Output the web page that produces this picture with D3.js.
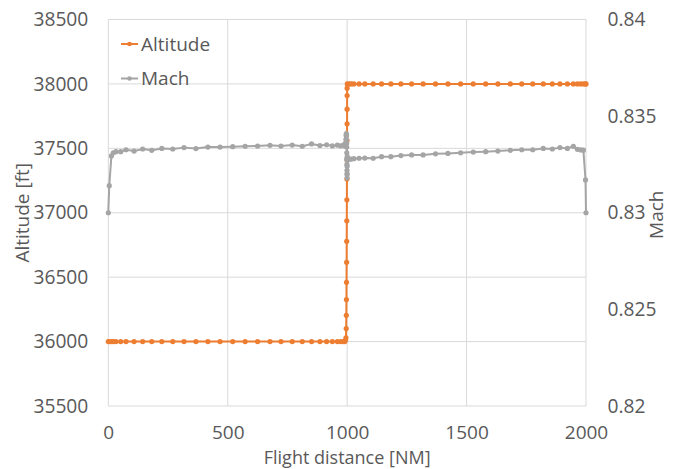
<!DOCTYPE html>
<html>
<head>
<meta charset="utf-8">
<script src="https://cdn.jsdelivr.net/npm/d3@7"></script>
<style>
html,body{margin:0;padding:0;background:#fff;}
svg{display:block;font-family:"Open Sans","Noto Sans",sans-serif;}
</style>
</head>
<body>
<svg id="chart" width="679" height="469"></svg>
<script>
// Flight distance [NM]
const distance = [0, 4, 13, 21, 32, 52, 74, 108, 144, 182, 224, 270, 317, 367, 417, 468, 521, 573, 625, 677, 723, 770, 812, 851, 886, 914, 938, 959, 973, 984, 990,
  993, 995, 996, 996.5, 997, 997.4, 997.8, 998.2, 998.5, 998.8, 999.1, 999.3, 999.5, 999.7, 999.8, 999.9, 1000, 1000.5,
  1009, 1017, 1028, 1050, 1074, 1109, 1144, 1183, 1225, 1270, 1318, 1370, 1422, 1475, 1528, 1580, 1631, 1683, 1731, 1777, 1821, 1859, 1891, 1922, 1947, 1964, 1978, 1989, 1998, 2000];
// Altitude [ft]
const altitude = [36000, 36000, 36000, 36000, 36000, 36000, 36000, 36000, 36000, 36000, 36000, 36000, 36000, 36000, 36000, 36000, 36000, 36000, 36000, 36000, 36000, 36000, 36000, 36000, 36000, 36000, 36000, 36000, 36000, 36000, 36000,
  36010, 36029, 36101, 36204, 36326, 36460, 36615, 36778, 36938, 37100, 37261, 37411, 37560, 37690, 37804, 37910, 37967, 38000,
  38000, 38000, 38000, 38000, 38000, 38000, 38000, 38000, 38000, 38000, 38000, 38000, 38000, 38000, 38000, 38000, 38000, 38000, 38000, 38000, 38000, 38000, 38000, 38000, 38000, 38000, 38000, 38000, 38000, 38000];
// Mach
const mach = [0.8300, 0.8314, 0.83294, 0.83310, 0.83316, 0.83316, 0.83326, 0.83319, 0.83330, 0.83323, 0.83333, 0.83330, 0.83337, 0.83332, 0.83340, 0.83340, 0.83342, 0.83344, 0.83345, 0.83349, 0.83345, 0.83350, 0.83344, 0.83356, 0.83348, 0.83352, 0.83346, 0.83350, 0.83346, 0.83350, 0.83345,
  0.8336, 0.8338, 0.8340, 0.8341, 0.8340, 0.8338, 0.8336, 0.8334, 0.8331, 0.8328, 0.8325, 0.8322, 0.8320, 0.8318, 0.8320, 0.8324, 0.8327, 0.8329,
  0.83277, 0.83278, 0.83280, 0.83282, 0.83283, 0.83282, 0.83290, 0.83290, 0.83296, 0.83299, 0.83299, 0.83305, 0.83307, 0.83310, 0.83314, 0.83316, 0.83319, 0.83323, 0.83326, 0.83326, 0.83333, 0.83330, 0.83337, 0.83333, 0.83344, 0.83328, 0.83325, 0.83324, 0.8317, 0.8300];

const xTicks = [0, 500, 1000, 1500, 2000];
const altTicks = [35500, 36000, 36500, 37000, 37500, 38000, 38500];
const machTicks = [0.82, 0.825, 0.83, 0.835, 0.84];
const seriesNames = ["Altitude", "Mach"];
const seriesColors = ["#ED7D31", "#A5A5A5"];

const svg = d3.select("#chart");
const m = {left: 108.3, right: 586, top: 19.5, bottom: 406};
const x = d3.scaleLinear().domain([0, 2000]).range([m.left, m.right]);
const yL = d3.scaleLinear().domain([35500, 38500]).range([m.bottom, m.top]);
const yR = d3.scaleLinear().domain([0.82, 0.84]).range([m.bottom, m.top]);
const textColor = "#595959";
const gridColor = "#D9D9D9";

// gridlines
svg.append("g").selectAll("line").data(altTicks).join("line")
  .attr("x1", m.left).attr("x2", m.right)
  .attr("y1", d => yL(d)).attr("y2", d => yL(d))
  .attr("stroke", gridColor).attr("stroke-width", 1);
svg.append("g").selectAll("line").data(xTicks).join("line")
  .attr("y1", m.top).attr("y2", m.bottom)
  .attr("x1", d => x(d)).attr("x2", d => x(d))
  .attr("stroke", gridColor).attr("stroke-width", 1);

// axes (labels only)
const axL = svg.append("g").attr("transform", `translate(${m.left - 20},0)`)
  .call(d3.axisLeft(yL).tickValues(altTicks).tickSize(0).tickPadding(0).tickFormat(d3.format("d")));
const axR = svg.append("g").attr("transform", `translate(${m.right + 21.5},0)`)
  .call(d3.axisRight(yR).tickValues(machTicks).tickSize(0).tickPadding(0).tickFormat(d => d3.format("")(+d.toFixed(3))));
const axB = svg.append("g").attr("transform", `translate(0,${m.bottom + 19.5})`)
  .call(d3.axisBottom(x).tickValues(xTicks).tickSize(0).tickPadding(0).tickFormat(d3.format("d")));
[axL, axR, axB].forEach(a => {
  a.select(".domain").remove();
  a.selectAll("text").attr("fill", textColor).style("font-size", "19.2px").style("font-family", '"Open Sans", sans-serif');
});
axB.selectAll("text").style("font-size", "19px");

// axis titles
svg.append("text").attr("transform", `translate(29,${(m.top + m.bottom) / 2}) rotate(-90)`)
  .attr("text-anchor", "middle").attr("fill", textColor).style("font-size", "19px").text("Altitude [ft]");
svg.append("text").attr("transform", `translate(663,${(m.top + m.bottom) / 2 + 2}) rotate(-90)`)
  .attr("text-anchor", "middle").attr("fill", textColor).style("font-size", "19px").text("Mach");
svg.append("text").attr("x", (m.left + m.right) / 2).attr("y", 464)
  .attr("text-anchor", "middle").attr("fill", textColor).style("font-size", "18px").text("Flight distance [NM]");

const altData = distance.map((d, i) => [d, altitude[i]]);
const machData = distance.map((d, i) => [d, mach[i]]);

function drawSeries(data, yScale, color) {
  const g = svg.append("g");
  g.append("path").datum(data)
    .attr("d", d3.line().x(d => x(d[0])).y(d => yScale(d[1])))
    .attr("fill", "none").attr("stroke", color).attr("stroke-width", 2).attr("stroke-linejoin", "round");
  g.selectAll("circle").data(data).join("circle")
    .attr("cx", d => x(d[0])).attr("cy", d => yScale(d[1])).attr("r", 2.6)
    .attr("fill", color);
}
drawSeries(altData, yL, seriesColors[0]);
drawSeries(machData, yR, seriesColors[1]);

// legend
const leg = svg.append("g");
seriesNames.forEach((name, i) => {
  const cy = 44 + i * 34.5;
  leg.append("line").attr("x1", 121).attr("x2", 138).attr("y1", cy).attr("y2", cy)
    .attr("stroke", seriesColors[i]).attr("stroke-width", 2);
  leg.append("circle").attr("cx", 129.5).attr("cy", cy).attr("r", 2.3).attr("fill", seriesColors[i]);
  leg.append("text").attr("x", 141).attr("y", cy).attr("dy", "0.35em")
    .attr("fill", textColor).style("font-size", "19px").text(name);
});
</script>
</body>
</html>
